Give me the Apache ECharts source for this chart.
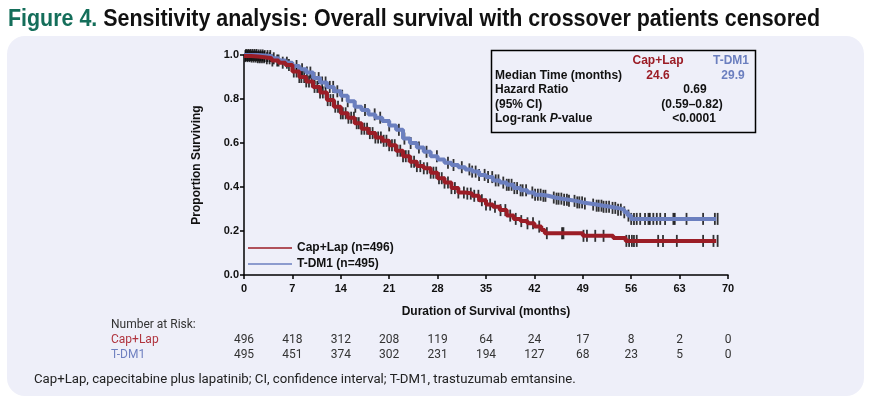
<!DOCTYPE html>
<html><head><meta charset="utf-8">
<script src="https://cdn.jsdelivr.net/npm/echarts/dist/echarts.min.js"></script>
<style>
html,body{margin:0;padding:0;background:#fff;}
#wrap{position:relative;width:872px;height:403px;overflow:hidden;}
#panel{position:absolute;left:7px;top:36px;width:857px;height:360px;border-radius:18px;background:#eeeff9;}
#chart{position:absolute;left:0;top:0;width:872px;height:403px;}
</style></head>
<body><div id="wrap"><div id="panel"></div><div id="chart"></div></div>
<script>
// ---- data ----
const xTicks = [0,7,14,21,28,35,42,49,56,63,70];
const atRiskCapLap = [496,418,312,208,119,64,24,17,8,2,0];
const atRiskTDM1  = [495,451,374,302,231,194,127,68,23,5,0];

const capLapTime = [0,1,2,3,4,5,6,7,8,9,10,11,12,13,14,15,16,17,18,19,20,21,22,23,24,25,26,27,28,29,30,31,32,33,34,35,36,37,38,39,40,41,42,43,43.5,49,53.4,55.2,68.3];
const capLapSurv = [0.995,0.993,0.99,0.985,0.975,0.965,0.955,0.925,0.9,0.88,0.855,0.83,0.795,0.765,0.735,0.715,0.69,0.665,0.645,0.625,0.61,0.59,0.565,0.54,0.515,0.495,0.485,0.465,0.44,0.42,0.395,0.375,0.37,0.36,0.34,0.32,0.31,0.295,0.27,0.255,0.245,0.235,0.22,0.205,0.19,0.178,0.168,0.155,0.155];

const tdm1Time = [0,1,2,3,4,5,6,7,8,9,10,11,12,13,14,15,16,17,18,19,20,21,22,23,24,25,26,27,28,29,30,31,32,33,34,35,36,37,38,39,40,41,42,43,44,45,46,47,48,49,50,51,52,53,54,55,55.5,56,68.3];
const tdm1Surv = [1.0,1.0,0.998,0.995,0.985,0.975,0.965,0.95,0.935,0.92,0.895,0.875,0.855,0.835,0.815,0.79,0.765,0.75,0.73,0.715,0.7,0.68,0.66,0.62,0.6,0.58,0.56,0.54,0.525,0.51,0.5,0.49,0.48,0.47,0.455,0.445,0.43,0.42,0.41,0.395,0.385,0.375,0.365,0.36,0.352,0.347,0.342,0.337,0.33,0.325,0.32,0.315,0.31,0.305,0.297,0.285,0.27,0.255,0.255];

const capLapCensor = [0.2,0.5,0.8,1.1,1.4,1.7,2.0,2.3,2.6,2.9,3.3,3.7,4.1,4.8,5.6,6.5,7.2,7.6,8.0,8.3,8.7,9.0,9.4,9.8,10.2,10.6,11.0,11.4,11.8,12.1,12.5,12.9,13.2,13.6,14.0,14.3,14.7,15.1,15.5,15.9,16.3,16.6,17.0,17.4,17.8,18.2,18.6,19.0,19.4,19.8,20.2,20.6,21.0,21.4,21.8,22.2,22.6,23.0,23.4,23.8,24.2,24.6,25.0,25.5,26.0,26.5,27.0,27.4,27.8,28.2,28.6,29.0,29.5,30.0,30.5,31.0,31.8,32.3,32.8,33.3,33.9,34.4,35.0,35.6,36.3,37.1,37.8,38.5,39.3,40.1,41.0,41.8,42.7,43.8,46.0,46.2,49.1,49.6,50.8,52.0,55.3,55.7,56.1,56.4,56.8,59.9,60.6,62.6,66.4,67.9,68.5];
const tdm1Censor = [0.3,0.6,0.9,1.2,1.5,1.8,2.1,2.4,2.7,3.0,3.4,3.8,4.3,5.0,6.2,7.6,8.4,9.1,9.6,10.2,10.8,11.3,11.8,12.4,12.9,13.5,14.2,15.0,16.1,17.5,18.9,19.7,21.0,22.4,23.2,24.1,25.3,26.4,27.9,29.5,30.3,31.5,32.6,33.0,33.5,34.0,34.8,35.3,35.9,36.4,36.8,37.5,38.0,38.3,38.7,39.1,39.5,40.0,40.3,40.8,41.7,42.1,42.5,42.9,43.3,43.6,44.8,45.2,45.5,45.9,46.3,46.7,47.0,47.8,48.2,48.5,48.9,49.3,50.5,51.0,51.3,51.7,52.0,52.4,52.8,53.3,53.7,54.1,54.5,55.0,55.6,56.0,56.4,56.8,57.3,58.0,58.5,58.7,59.2,59.7,60.2,60.9,62.1,62.3,64.0,66.4,68.1,68.5];

const titleLead = 'Figure 4.';
const titleRest = ' Sensitivity analysis: Overall survival with crossover patients censored';
const stats = {capMedian:'24.6', tdmMedian:'29.9', hr:'0.69', ci:'(0.59\u20130.82)', p:'<0.0001'};

// ---- helpers ----
const RED = '#9b1d26', BLUE = '#6b7fbf';
const SANS = '"Liberation Sans", Arial, sans-serif';
function zip(t, s){ return t.map((v,i)=>[v,s[i]]); }
function survAt(times, surv, t){ let v = surv[0]; for(let i=0;i<times.length;i++){ if(times[i]<=t) v=surv[i]; } return v; }
function censorPts(c, times, surv){ return c.map(t=>[t, survAt(times, surv, t)]); }

// title is condensed horizontally to the reference width
const TITLE_SIZE = 24, TITLE_W = 812;
const mctx = document.createElement('canvas').getContext('2d');
mctx.font = 'bold ' + TITLE_SIZE + 'px ' + SANS;
const titleScale = TITLE_W / mctx.measureText(titleLead + titleRest).width;

const BOLD = 'bold 12px ' + SANS;
const axisFont = {fontWeight:'bold', fontSize:11, fontFamily:SANS, color:'#111'};
const riskFont = {fontSize:12, color:'#333', fontFamily:'Roboto, sans-serif'};

const chart = echarts.init(document.getElementById('chart'), null, {renderer:'canvas'});
const baseX = {type:'value', min:0, max:70, interval:7, gridIndex:0, splitLine:{show:false}};
const option = {
  backgroundColor:'transparent',
  animation:false,
  grid:{left:244, right:144, top:55, bottom:128},
  legend:{
    data:['Cap+Lap (n=496)','T-DM1 (n=495)'],
    orient:'vertical', left:248, top:242, padding:0, icon:'rect', itemWidth:44, itemHeight:1.5, itemGap:4,
    textStyle:{fontWeight:'bold', fontSize:12, fontFamily:SANS, color:'#111'}
  },
  xAxis:[
    Object.assign({}, baseX, {
      name:'Duration of Survival (months)', nameLocation:'middle', nameGap:31,
      nameTextStyle:{fontWeight:'bold', fontSize:12, fontFamily:SANS, color:'#111'},
      axisLine:{lineStyle:{color:'#000', width:1.5}},
      axisTick:{length:4, lineStyle:{color:'#000', width:1.5}},
      axisLabel:Object.assign({margin:8}, axisFont)
    }),
    Object.assign({}, baseX, {
      position:'bottom', offset:52, axisLine:{show:false}, axisTick:{show:false},
      axisLabel:Object.assign({margin:7, formatter:v=>{const i=xTicks.indexOf(v); return i>=0?String(atRiskCapLap[i]):'';}}, riskFont)
    }),
    Object.assign({}, baseX, {
      position:'bottom', offset:67, axisLine:{show:false}, axisTick:{show:false},
      axisLabel:Object.assign({margin:7, formatter:v=>{const i=xTicks.indexOf(v); return i>=0?String(atRiskTDM1[i]):'';}}, riskFont)
    })
  ],
  yAxis:{
    type:'value', min:0, max:1, interval:0.2,
    name:'Proportion Surviving', nameLocation:'middle', nameGap:41, nameRotate:90,
    nameTextStyle:{fontWeight:'bold', fontSize:12, fontFamily:SANS, color:'#111'},
    splitLine:{show:false},
    axisLine:{show:true, lineStyle:{color:'#000', width:1.5}},
    axisTick:{show:true, length:4, lineStyle:{color:'#000', width:1.5}},
    axisLabel:Object.assign({margin:5, formatter:v=>v.toFixed(1)}, axisFont)
  },
  series:[
    {name:'tdmCensor', type:'scatter', data:censorPts(tdm1Censor, tdm1Time, tdm1Surv), symbol:'rect', symbolSize:[1.8,12], itemStyle:{color:'#000'}, silent:true, z:1},
    {name:'capCensor', type:'scatter', data:censorPts(capLapCensor, capLapTime, capLapSurv), symbol:'rect', symbolSize:[1.8,12], itemStyle:{color:'#000'}, silent:true, z:1},
    {name:'T-DM1 (n=495)', type:'line', step:'end', data:zip(tdm1Time, tdm1Surv), showSymbol:false, color:BLUE, lineStyle:{width:4, color:BLUE}, z:3},
    {name:'Cap+Lap (n=496)', type:'line', step:'end', data:zip(capLapTime, capLapSurv), showSymbol:false, color:RED, lineStyle:{width:4, color:RED}, z:4}
  ],
  graphic:[
    {type:'text', x:8, y:19, scaleX:titleScale, style:{
      text:'{a|' + titleLead + '}{b|' + titleRest + '}', verticalAlign:'middle', align:'left',
      rich:{a:{fontSize:TITLE_SIZE, fontWeight:'bold', fontFamily:SANS, fill:'#146e5a'},
            b:{fontSize:TITLE_SIZE, fontWeight:'bold', fontFamily:SANS, fill:'#111'}}}},
    {type:'rect', shape:{x:491.5, y:50.5, width:264, height:82}, style:{fill:'none', stroke:'#000', lineWidth:1.5}},
    {type:'text', style:{text:'Cap+Lap', x:658, y:61, font:BOLD, fill:RED, align:'center', verticalAlign:'middle'}},
    {type:'text', style:{text:'T-DM1', x:731, y:61, font:BOLD, fill:BLUE, align:'center', verticalAlign:'middle'}},
    {type:'text', style:{text:'Median Time (months)', x:495, y:76, font:BOLD, fill:'#111', align:'left', verticalAlign:'middle'}},
    {type:'text', style:{text:stats.capMedian, x:658, y:76, font:BOLD, fill:RED, align:'center', verticalAlign:'middle'}},
    {type:'text', style:{text:stats.tdmMedian, x:733, y:76, font:BOLD, fill:BLUE, align:'center', verticalAlign:'middle'}},
    {type:'text', style:{text:'Hazard Ratio', x:495, y:90, font:BOLD, fill:'#111', align:'left', verticalAlign:'middle'}},
    {type:'text', style:{text:stats.hr, x:695, y:90, font:BOLD, fill:'#111', align:'center', verticalAlign:'middle'}},
    {type:'text', style:{text:'(95% CI)', x:495, y:105, font:BOLD, fill:'#111', align:'left', verticalAlign:'middle'}},
    {type:'text', style:{text:stats.ci, x:692, y:105, font:BOLD, fill:'#111', align:'center', verticalAlign:'middle'}},
    {type:'text', style:{text:'{n|Log-rank }{i|P}{n|-value}', x:495, y:119, fill:'#111', align:'left', verticalAlign:'middle',
      rich:{n:{fontWeight:'bold', fontSize:12, fontFamily:SANS, fill:'#111'},
            i:{fontWeight:'bold', fontStyle:'italic', fontSize:12, fontFamily:SANS, fill:'#111'}}}},
    {type:'text', style:{text:stats.p, x:694, y:119, font:BOLD, fill:'#111', align:'center', verticalAlign:'middle'}},
    {type:'text', style:{text:'Number at Risk:', x:111, y:325, font:'12px Roboto, sans-serif', fill:'#333', align:'left', verticalAlign:'middle'}},
    {type:'text', style:{text:'Cap+Lap', x:111, y:340, font:'12px Roboto, sans-serif', fill:'#b0343f', align:'left', verticalAlign:'middle'}},
    {type:'text', style:{text:'T-DM1', x:111, y:355, font:'12px Roboto, sans-serif', fill:'#6f80c0', align:'left', verticalAlign:'middle'}},
    {type:'text', style:{text:'Cap+Lap, capecitabine plus lapatinib; CI, confidence interval; T-DM1, trastuzumab emtansine.', x:34, y:380, font:'13.2px Roboto, sans-serif', fill:'#222', align:'left', verticalAlign:'middle'}}
  ]
};
chart.setOption(option);
</script></body></html>
